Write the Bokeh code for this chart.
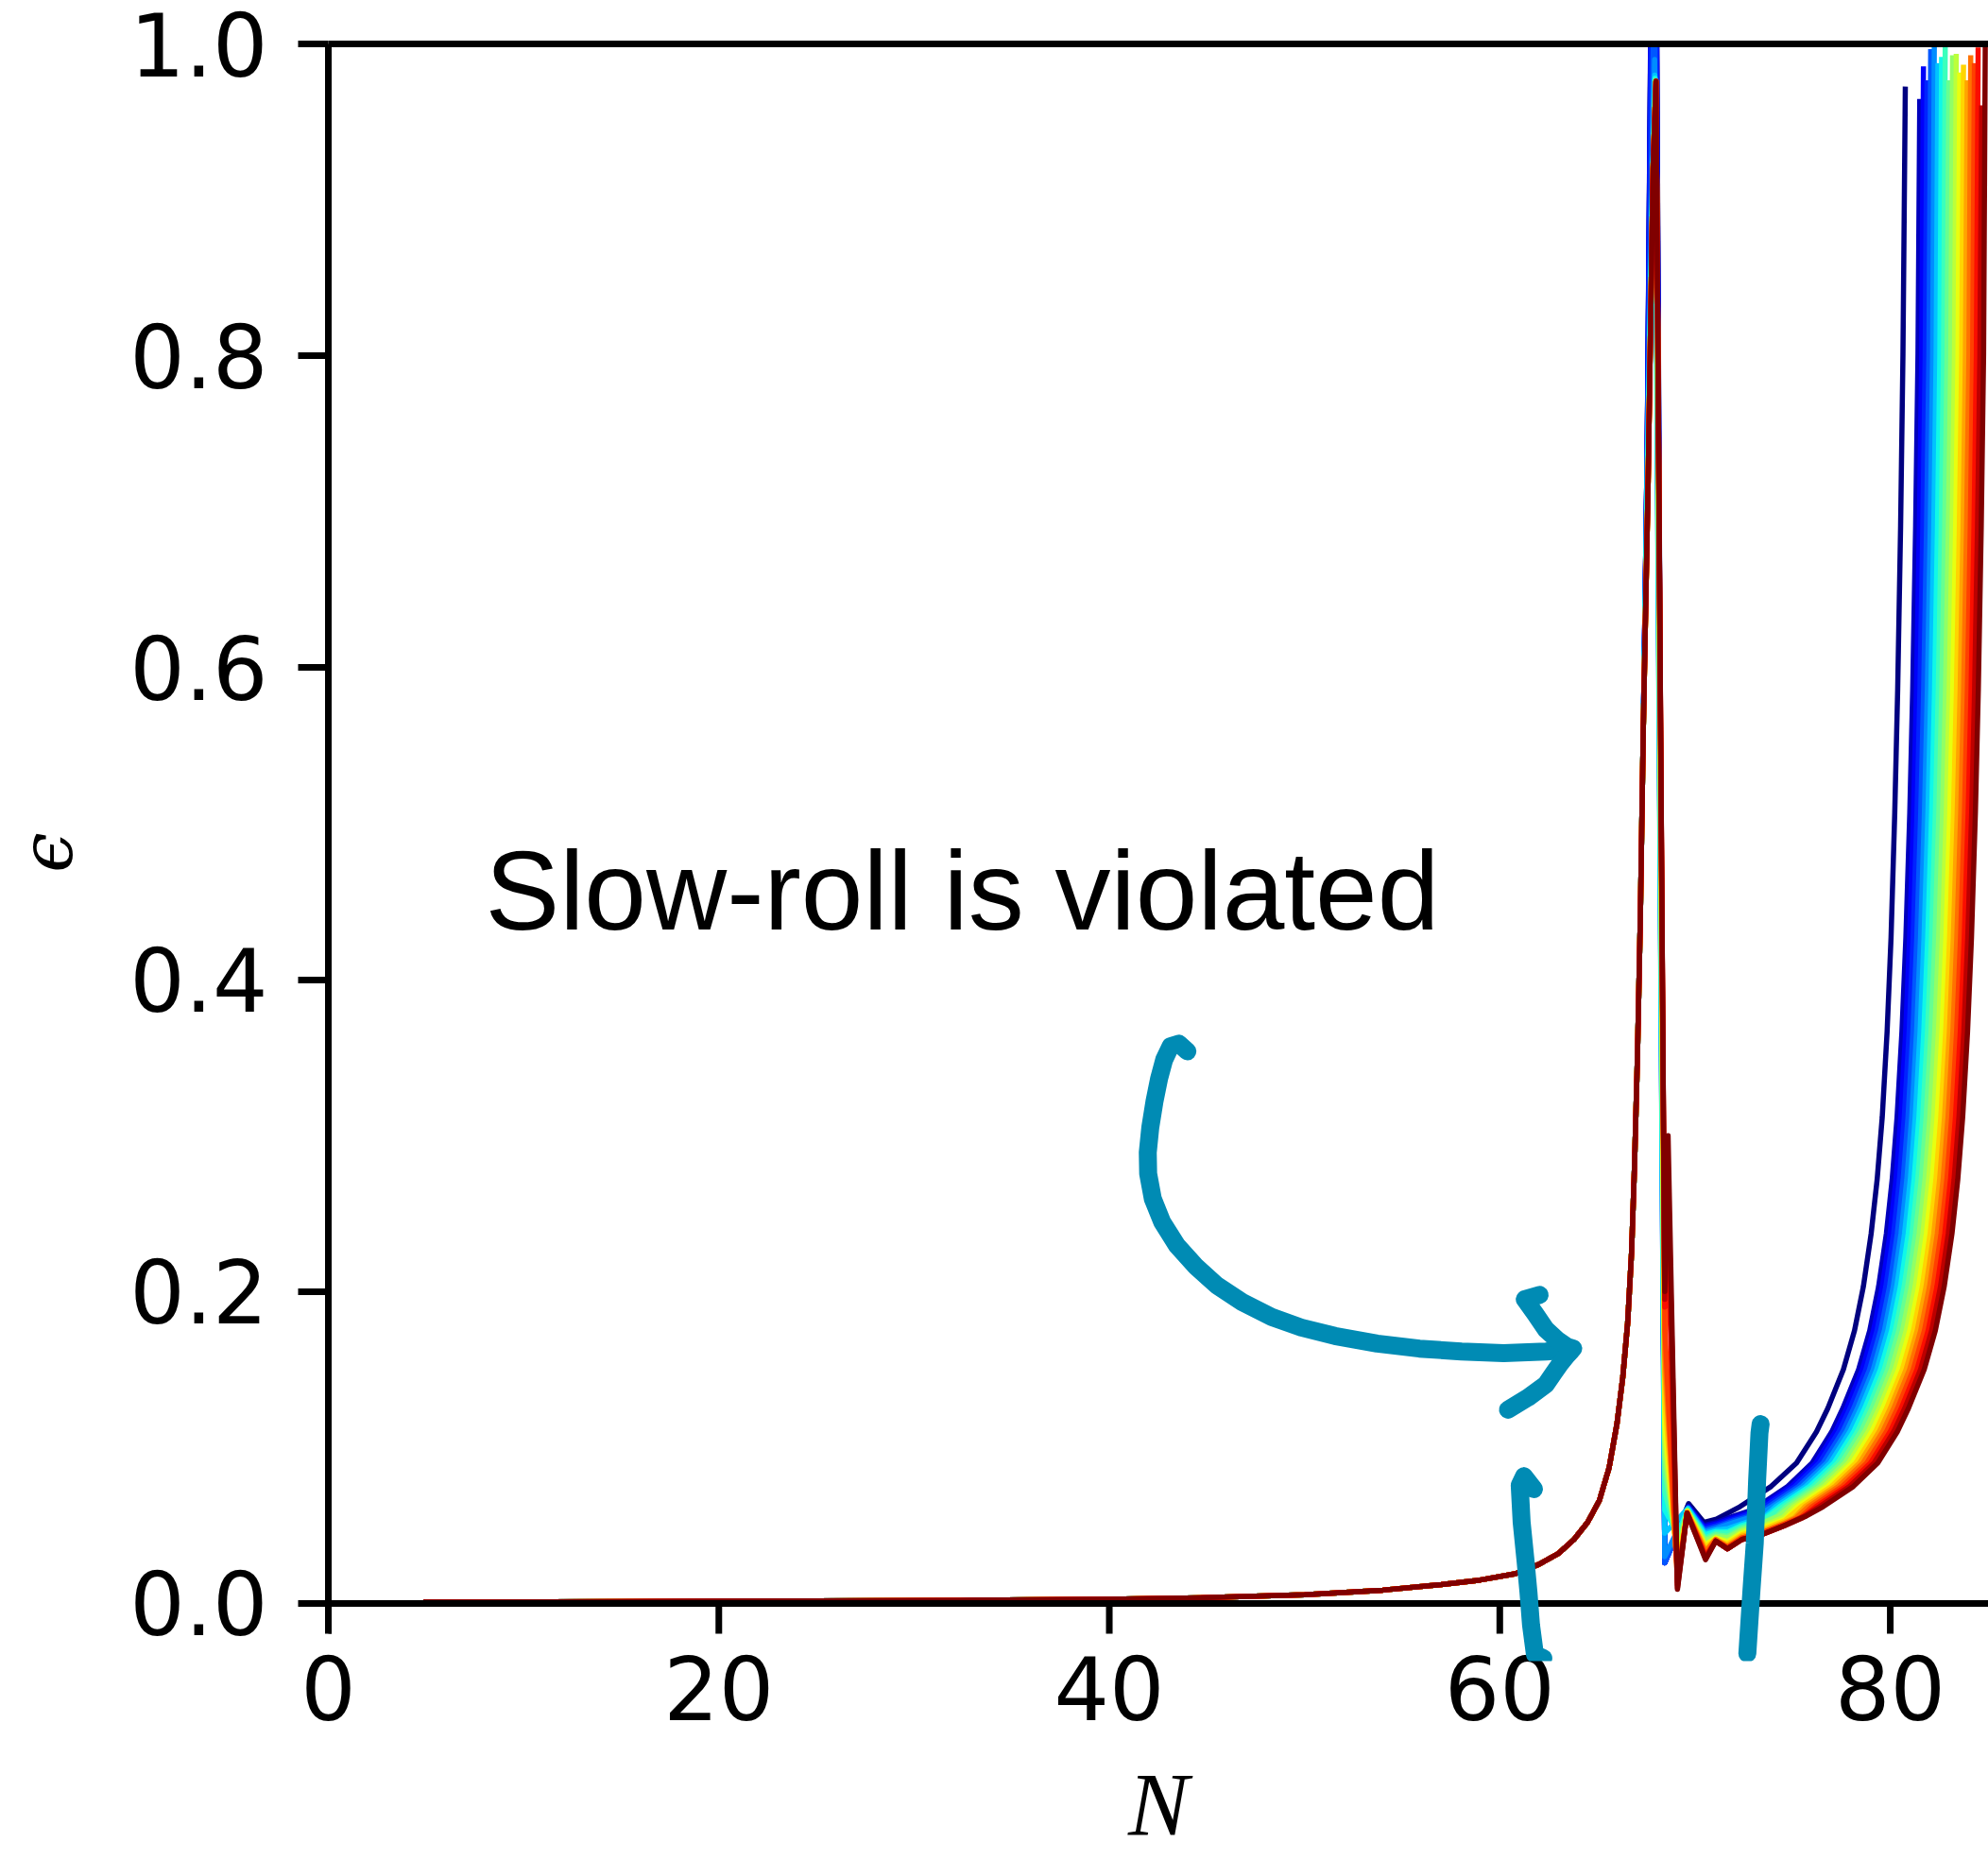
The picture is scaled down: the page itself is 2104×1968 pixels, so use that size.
import numpy as np
from bokeh.plotting import figure
from bokeh.models import (Range1d, FixedTicker, NumeralTickFormatter, LinearAxis,
                          PolyAnnotation, Label, Span)
from bokeh.embed import file_html
from bokeh.resources import INLINE

# ---------------- data ----------------
x_ticks = [0, 20, 40, 60, 80]
y_ticks = [0.0, 0.2, 0.4, 0.6, 0.8, 1.0]

# slow-roll part shared by all runs
rise_N = [5, 15, 25, 33, 40, 45, 50, 54, 57, 59, 60.8, 62.0, 63.0, 63.8, 64.5, 65.1,
          65.6, 66.0, 66.3, 66.55, 66.75, 66.9, 67.05, 67.2, 67.35]
rise_eps = [0.0008, 0.0012, 0.0016, 0.002, 0.0027, 0.0037, 0.0055, 0.0085, 0.012, 0.015,
            0.019, 0.025, 0.032, 0.041, 0.052, 0.066, 0.087, 0.115, 0.145, 0.18, 0.225,
            0.28, 0.35, 0.44, 0.56]

# spike + oscillation part of each run (run 0 .. 19)
run_N = [
    [67.55, 67.92, 68.45, 69.67, 70.45, 71.1, 71.7],
    [67.55, 67.92, 68.45, 69.67, 70.45, 71.1, 72.0, 72.7],
    [67.55, 67.92, 68.45, 69.66, 70.46, 71.1, 72.0, 72.8],
    [67.55, 67.92, 68.45, 69.66, 70.47, 71.1, 72.0, 73.0],
    [67.56, 67.92, 68.45, 69.65, 70.48, 71.1, 72.0, 73.1],
    [67.56, 67.93, 68.45, 69.65, 70.49, 71.1, 72.0, 73.3],
    [67.57, 67.94, 68.45, 69.64, 70.5, 71.08, 71.7, 72.4, 73.6],
    [67.58, 67.8, 67.95, 68.45, 69.1, 69.63, 70.5, 71.07, 71.68, 72.4, 73.5],
    [67.59, 67.82, 67.96, 68.45, 69.1, 69.62, 70.51, 71.07, 71.68, 72.4, 73.6],
    [67.6, 67.84, 67.97, 68.46, 69.1, 69.62, 70.51, 71.07, 71.67, 72.4, 73.5, 74.2],
    [67.6, 67.85, 67.98, 68.46, 69.1, 69.61, 70.52, 71.06, 71.67, 72.4, 73.4, 74.3],
    [67.6, 67.85, 67.99, 68.46, 69.1, 69.61, 70.52, 71.06, 71.67, 72.4, 73.4, 74.5],
    [67.6, 67.85, 68.0, 68.46, 69.1, 69.61, 70.52, 71.06, 71.66, 72.4, 73.4, 74.6],
    [67.6, 67.85, 68.0, 68.46, 69.1, 69.6, 70.53, 71.06, 71.66, 72.4, 73.4, 74.6],
    [67.6, 67.85, 68.0, 68.46, 69.1, 69.6, 70.53, 71.06, 71.66, 72.4, 73.4, 74.6, 75.1],
    [67.6, 67.85, 68.0, 68.46, 69.1, 69.6, 70.53, 71.06, 71.66, 72.4, 73.4, 74.6, 75.2],
    [67.6, 67.85, 68.0, 68.46, 69.1, 69.6, 70.54, 71.06, 71.66, 72.4, 73.4, 74.6, 75.4],
    [67.6, 67.85, 68.0, 68.45, 68.6, 69.1, 69.59, 70.54, 71.06, 71.66, 72.4, 73.4, 74.6, 75.5],
    [67.6, 67.85, 68.0, 68.45, 68.61, 69.1, 69.59, 70.54, 71.06, 71.66, 72.4, 73.4, 74.6, 75.6],
    [67.6, 67.85, 68.0, 68.45, 68.62, 69.1, 69.59, 70.54, 71.06, 71.66, 72.4, 73.4, 74.6, 75.7],
]
run_eps = [
    [0.74, 1.30, 0.026, 0.064, 0.052, 0.054, 0.058],
    [0.74, 1.28, 0.026, 0.062, 0.050, 0.052, 0.056, 0.059],
    [0.74, 1.26, 0.026, 0.062, 0.049, 0.051, 0.055, 0.058],
    [0.74, 1.22, 0.026, 0.0615, 0.048, 0.050, 0.054, 0.058],
    [0.74, 1.05, 0.026, 0.061, 0.047, 0.049, 0.053, 0.057],
    [0.74, 0.99, 0.030, 0.061, 0.046, 0.048, 0.052, 0.057],
    [0.74, 0.98, 0.045, 0.061, 0.045, 0.047, 0.048, 0.051, 0.056],
    [0.73, 0.90, 0.978, 0.060, 0.045, 0.060, 0.044, 0.046, 0.046, 0.050, 0.054],
    [0.73, 0.90, 0.977, 0.072, 0.040, 0.060, 0.042, 0.045, 0.045, 0.049, 0.054],
    [0.73, 0.92, 0.976, 0.085, 0.036, 0.0595, 0.041, 0.044, 0.043, 0.048, 0.052, 0.056],
    [0.72, 0.92, 0.976, 0.095, 0.032, 0.0595, 0.040, 0.043, 0.042, 0.047, 0.051, 0.056],
    [0.72, 0.92, 0.976, 0.105, 0.028, 0.059, 0.038, 0.042, 0.040, 0.046, 0.049, 0.055],
    [0.72, 0.92, 0.976, 0.115, 0.025, 0.059, 0.037, 0.042, 0.039, 0.045, 0.048, 0.054],
    [0.72, 0.92, 0.976, 0.130, 0.022, 0.0585, 0.036, 0.041, 0.038, 0.044, 0.047, 0.053],
    [0.72, 0.92, 0.976, 0.148, 0.019, 0.0585, 0.034, 0.041, 0.037, 0.043, 0.046, 0.052, 0.055],
    [0.72, 0.92, 0.976, 0.160, 0.016, 0.058, 0.033, 0.041, 0.036, 0.042, 0.045, 0.051, 0.055],
    [0.72, 0.92, 0.976, 0.175, 0.014, 0.058, 0.031, 0.040, 0.036, 0.042, 0.045, 0.051, 0.055],
    [0.72, 0.92, 0.976, 0.190, 0.24, 0.012, 0.058, 0.030, 0.040, 0.035, 0.041, 0.044, 0.050, 0.055],
    [0.72, 0.92, 0.976, 0.195, 0.28, 0.010, 0.058, 0.029, 0.040, 0.035, 0.041, 0.044, 0.050, 0.056],
    [0.72, 0.92, 0.976, 0.200, 0.30, 0.009, 0.058, 0.028, 0.040, 0.035, 0.041, 0.044, 0.050, 0.056],
]

# late-time rise: N at which each run reaches these eps levels
tail_levels = [0.062, 0.075, 0.09, 0.11, 0.125, 0.15, 0.175, 0.203, 0.237, 0.272, 0.312,
               0.367, 0.427, 0.507, 0.586, 0.691, 0.801]
tail_N = [
    [72.30, 73.90, 75.20, 76.22, 76.80, 77.60, 78.17, 78.62, 79.02, 79.33, 79.59, 79.84, 80.04, 80.23, 80.38, 80.53, 80.65],
    [73.20, 74.75, 76.00, 77.00, 77.57, 78.38, 78.95, 79.40, 79.80, 80.10, 80.35, 80.60, 80.80, 81.00, 81.15, 81.30, 81.42],
    [73.39, 74.94, 76.19, 77.19, 77.76, 78.57, 79.14, 79.59, 79.99, 80.29, 80.54, 80.79, 80.99, 81.19, 81.34, 81.49, 81.61],
    [73.57, 75.12, 76.37, 77.37, 77.94, 78.75, 79.32, 79.77, 80.17, 80.47, 80.72, 80.97, 81.17, 81.37, 81.52, 81.67, 81.79],
    [73.76, 75.31, 76.56, 77.56, 78.13, 78.94, 79.51, 79.96, 80.36, 80.66, 80.91, 81.16, 81.36, 81.56, 81.71, 81.86, 81.98],
    [73.95, 75.50, 76.75, 77.75, 78.32, 79.13, 79.70, 80.15, 80.55, 80.85, 81.10, 81.35, 81.55, 81.75, 81.90, 82.05, 82.17],
    [74.13, 75.68, 76.93, 77.93, 78.50, 79.31, 79.88, 80.33, 80.73, 81.03, 81.28, 81.53, 81.73, 81.93, 82.08, 82.23, 82.35],
    [74.32, 75.87, 77.12, 78.12, 78.69, 79.50, 80.07, 80.52, 80.92, 81.22, 81.47, 81.72, 81.92, 82.12, 82.27, 82.42, 82.54],
    [74.51, 76.06, 77.31, 78.31, 78.88, 79.69, 80.26, 80.71, 81.11, 81.41, 81.66, 81.91, 82.11, 82.31, 82.46, 82.61, 82.73],
    [74.69, 76.24, 77.49, 78.49, 79.06, 79.87, 80.44, 80.89, 81.29, 81.59, 81.84, 82.09, 82.29, 82.49, 82.64, 82.79, 82.91],
    [74.88, 76.43, 77.68, 78.68, 79.25, 80.06, 80.63, 81.08, 81.48, 81.78, 82.03, 82.28, 82.48, 82.68, 82.83, 82.98, 83.10],
    [75.07, 76.62, 77.87, 78.87, 79.44, 80.25, 80.82, 81.27, 81.67, 81.97, 82.22, 82.47, 82.67, 82.87, 83.02, 83.17, 83.29],
    [75.25, 76.80, 78.05, 79.05, 79.62, 80.43, 81.00, 81.45, 81.85, 82.15, 82.40, 82.65, 82.85, 83.05, 83.20, 83.35, 83.47],
    [75.44, 76.99, 78.24, 79.24, 79.81, 80.62, 81.19, 81.64, 82.04, 82.34, 82.59, 82.84, 83.04, 83.24, 83.39, 83.54, 83.66],
    [75.63, 77.18, 78.43, 79.43, 80.00, 80.81, 81.38, 81.83, 82.23, 82.53, 82.78, 83.03, 83.23, 83.43, 83.58, 83.73, 83.85],
    [75.81, 77.36, 78.61, 79.61, 80.18, 80.99, 81.56, 82.01, 82.41, 82.71, 82.96, 83.21, 83.41, 83.61, 83.76, 83.91, 84.03],
    [76.00, 77.55, 78.80, 79.80, 80.37, 81.18, 81.75, 82.20, 82.60, 82.90, 83.15, 83.40, 83.60, 83.80, 83.95, 84.10, 84.22],
    [76.19, 77.74, 78.99, 79.99, 80.56, 81.37, 81.94, 82.39, 82.79, 83.09, 83.34, 83.59, 83.79, 83.99, 84.14, 84.29, 84.41],
    [76.37, 77.92, 79.17, 80.17, 80.74, 81.55, 82.12, 82.57, 82.97, 83.27, 83.52, 83.77, 83.97, 84.17, 84.32, 84.47, 84.59],
    [76.56, 78.11, 79.36, 80.36, 80.93, 81.74, 82.31, 82.76, 83.16, 83.46, 83.71, 83.96, 84.16, 84.36, 84.51, 84.66, 84.78],
]
end_N = [80.77, 81.51, 81.70, 81.88, 82.07, 82.26, 82.44, 82.63, 82.82, 83.00,
         83.19, 83.38, 83.56, 83.75, 83.94, 84.12, 84.31, 84.50, 84.68, 84.87]
end_eps = [0.971, 0.963, 0.984, 0.975, 0.995, 1.01, 0.986, 0.990, 1.01, 0.975,
           0.991, 0.992, 0.980, 0.985, 0.975, 0.991, 0.986, 0.996, 0.959, 1.01]

# hand-drawn annotation strokes (data units)
arrow_body_N = [44.00, 43.57, 43.14, 42.81, 42.55, 42.31, 42.10, 41.97, 41.99, 42.23, 42.71,
                43.46, 44.43, 45.51, 46.81, 48.32, 49.83, 51.56, 53.72, 55.88, 58.04, 60.20,
                62.36, 63.55]
arrow_body_eps = [0.3540, 0.3589, 0.3573, 0.3486, 0.3365, 0.3216, 0.3053, 0.2892, 0.2756,
                  0.2594, 0.2445, 0.2296, 0.2161, 0.2039, 0.1932, 0.1836, 0.1769, 0.1715,
                  0.1666, 0.1634, 0.1615, 0.1604, 0.1615, 0.1626]
arrow_head_N = [62.04, 61.28, 61.80, 62.36, 62.95, 63.44, 63.76, 63.66, 63.40, 63.11, 62.75,
                62.36, 61.45, 60.42]
arrow_head_eps = [0.1978, 0.1950, 0.1860, 0.1757, 0.1690, 0.1647, 0.1635, 0.1620, 0.1585,
                  0.1539, 0.1475, 0.1404, 0.1320, 0.1242]
mark_left_N = [61.75, 61.24, 61.02, 61.12, 61.31, 61.47, 61.60, 61.80, 62.23]
mark_left_eps = [0.0733, 0.0815, 0.0757, 0.0520, 0.0285, 0.0070, -0.0139, -0.0327, -0.0351]
mark_right_N = [73.36, 73.30, 73.18, 73.06, 72.89, 72.68]
mark_right_eps = [0.1150, 0.1092, 0.0789, 0.0386, 0.0083, -0.0321]

annotation_text = "Slow-roll is violated"
annotation_pos = (8.03, 0.457)


# ---------------- styling ----------------
def jet(t):
    r = np.interp(t, [0, 0.35, 0.66, 0.89, 1], [0, 0, 1, 1, 0.5])
    g = np.interp(t, [0, 0.125, 0.375, 0.64, 0.91, 1], [0, 0, 1, 1, 0, 0])
    b = np.interp(t, [0, 0.11, 0.34, 0.65, 1], [0.5, 1, 1, 0, 0])
    return "#%02x%02x%02x" % (int(round(r * 255)), int(round(g * 255)), int(round(b * 255)))


TEAL = "#008bb4"
PX_PER_EPS = 1651.0            # vertical scale of the frame (pixels per unit of eps)
TICK_LEN = 32 / PX_PER_EPS     # outward tick length, in eps units

# frame reaches slightly below eps=0 so the hand-drawn marks can cross the axis line
p = figure(width=2104, height=1968, x_range=Range1d(0, 85.03), y_range=Range1d(-0.037, 1.0),
           output_backend="svg", toolbar_location=None,
           min_border_left=347, min_border_right=0, min_border_top=46, min_border_bottom=210)
p.outline_line_color = None
p.xgrid.visible = False
p.ygrid.visible = False
p.background_fill_color = "white"
p.border_fill_color = "white"

n_runs = len(run_N)
for i in range(n_runs):
    xs = rise_N + run_N[i] + tail_N[i] + [end_N[i]]
    ys = rise_eps + run_eps[i] + tail_levels + [end_eps[i]]
    p.line(xs, ys, line_color=jet(i / (n_runs - 1)), line_width=5.5,
           line_join="round", line_cap="square")

# x axis spine at eps = 0 with outward ticks
p.segment(x0=x_ticks, y0=[0] * len(x_ticks), x1=x_ticks, y1=[-TICK_LEN] * len(x_ticks),
          line_color="black", line_width=7, line_cap="butt")
p.add_layout(Span(location=0, dimension="width", line_color="black", line_width=7))

for ax in (p.xaxis[0], p.yaxis[0]):
    ax.major_tick_line_width = 7
    ax.major_tick_line_color = "black"
    ax.major_tick_in = 0
    ax.minor_tick_line_color = None
    ax.major_label_text_font = "DejaVu Sans"
    ax.major_label_text_font_size = "92px"
    ax.major_label_text_color = "black"
    ax.axis_label_text_color = "black"

# y axis: spine + ticks
yax = p.yaxis[0]
yax.axis_line_width = 7
yax.axis_line_color = "black"
yax.major_tick_out = 32
yax.bounds = (-TICK_LEN, 1.0)
yax.ticker = FixedTicker(ticks=y_ticks, minor_ticks=[])
yax.formatter = NumeralTickFormatter(format="0.0")
yax.major_label_standoff = 32
yax.axis_label = "ϵ"
yax.axis_label_text_font = "DejaVu Serif"
yax.axis_label_text_font_style = "italic"
yax.axis_label_text_font_size = "76px"
yax.axis_label_standoff = 40

# x axis: only labels (line and ticks drawn at eps = 0 above)
xax = p.xaxis[0]
xax.axis_line_color = None
xax.major_tick_line_color = None
xax.major_tick_out = 0
xax.ticker = FixedTicker(ticks=x_ticks, minor_ticks=[])
xax.major_label_standoff = -6
xax.axis_label = "N"
xax.axis_label_text_font = "Liberation Serif"
xax.axis_label_text_font_style = "italic"
xax.axis_label_text_font_size = "96px"
xax.axis_label_standoff = 33

top_axis = LinearAxis(ticker=FixedTicker(ticks=[], minor_ticks=[]),
                      axis_line_width=7, axis_line_color="black",
                      major_tick_line_color=None, minor_tick_line_color=None,
                      major_label_text_font_size="0px")
p.add_layout(top_axis, "above")


def stroke(xs, ys):
    px = list(xs) + list(xs[-2::-1])
    py = list(ys) + list(ys[-2::-1])
    return PolyAnnotation(xs=px, ys=py, line_color=TEAL, line_alpha=1.0, line_width=19,
                          line_join="round", line_cap="round",
                          fill_color=None, fill_alpha=0)


for sx, sy in ((arrow_body_N, arrow_body_eps), (arrow_head_N, arrow_head_eps),
               (mark_left_N, mark_left_eps), (mark_right_N, mark_right_eps)):
    p.add_layout(stroke(sx, sy))

p.add_layout(Label(x=annotation_pos[0], y=annotation_pos[1], text=annotation_text,
                   text_font="Liberation Sans", text_font_size="118px",
                   text_color="black", text_baseline="alphabetic", text_align="left"))

open("out.html", "w").write(file_html(p, INLINE))
